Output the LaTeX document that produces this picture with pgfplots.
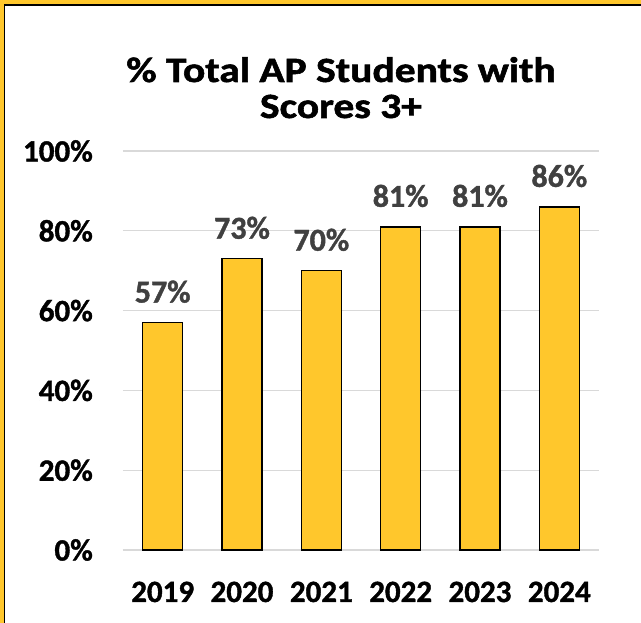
\documentclass[border=0pt]{standalone}
\usepackage{pgfplots}
\pgfplotsset{compat=1.18}
\usepackage{fontspec}
\setmainfont{Carlito}[BoldFeatures={FakeBold=1.2}]
\newfontfamily\titlefont{Carlito}[FakeStretch=1.17,BoldFeatures={FakeBold=1.6}]
\definecolor{barfill}{HTML}{FFC72C}
\definecolor{labgray}{HTML}{404040}
\definecolor{gridgray}{HTML}{D9D9D9}
\begin{document}
\begin{tikzpicture}[x=1pt,y=1pt]
\path[use as bounding box] (0,0) rectangle (641,623);
\fill[white] (0,0) rectangle (641,623);
\fill[barfill] (0,0) rectangle (3.6,623);
\fill[barfill] (0,619) rectangle (641,623);
\draw[black, line width=1.6pt] (4.4,0) -- (4.4,618.2) -- (641,618.2);
\node[anchor=base, inner sep=0pt, font=\titlefont\fontsize{35.5}{40}\selectfont\bfseries] at (341,541) {\% Total AP Students with};
\node[anchor=base, inner sep=0pt, font=\titlefont\fontsize{35.5}{40}\selectfont\bfseries] at (341,505) {Scores 3+};
\begin{axis}[
  at={(123pt,73pt)}, anchor=south west,
  scale only axis, width=476pt, height=399pt,
  xmin=-0.5, xmax=5.5, ymin=0, ymax=100,
  ybar, bar width=40pt,
  xtick={0,1,2,3,4,5},
  xticklabels={2019,2020,2021,2022,2023,2024},
  ytick={0,20,40,60,80,100},
  yticklabel={\pgfmathprintnumber{\tick}\%},
  ymajorgrids,
  grid style={color=gridgray, line width=1.3pt},
  axis x line*=bottom,
  axis y line*=left,
  y axis line style={draw=none},
  x axis line style={color=gridgray, line width=1.3pt},
  major tick length=0pt,
  tick style={draw=none},
  xticklabel style={anchor=base, yshift=-52pt, inner sep=0pt, font=\fontsize{31}{36}\selectfont\bfseries},
  yticklabel style={anchor=east, xshift=-30pt, inner sep=0pt, font=\fontsize{31}{36}\selectfont\bfseries},
  /pgf/number format/assume math mode=true,
  nodes near coords={\pgfmathprintnumber{\pgfplotspointmeta}\%},
  every node near coord/.append style={anchor=base, yshift=20pt, inner sep=0pt, text=labgray, font=\fontsize{32}{36}\selectfont\bfseries},
  clip=false,
]
\addplot[draw=black, line width=1.5pt, fill=barfill] coordinates {(0,57) (1,73) (2,70) (3,81) (4,81) (5,86)};
\end{axis}
\end{tikzpicture}
\end{document}
